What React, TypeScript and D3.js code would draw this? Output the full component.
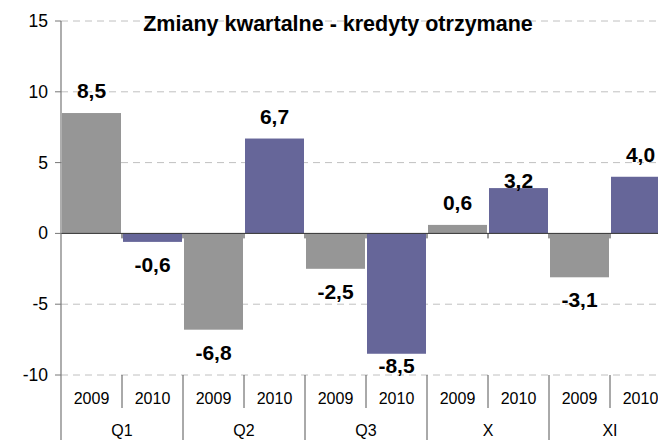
import React from "react";
import * as d3 from "d3";

const groups = ["Q1", "Q2", "Q3", "X", "XI"];
const years = ["2009", "2010"];
const values2009 = [8.5, -6.8, -2.5, 0.6, -3.1];
const values2010 = [-0.6, 6.7, -8.5, 3.2, 4.0];
const yTicks = [-10, -5, 0, 5, 10, 15];
const title = "Zmiany kwartalne - kredyty otrzymane";

const W = 658;
const H = 448;
const FONT = "'Liberation Sans', Arial, sans-serif";
const colors: Record<string, string> = { "2009": "#969696", "2010": "#666699" };

type Bar = { key: string; group: string; year: string; value: number; idx: number };

export default function App() {
  const bars: Bar[] = [];
  groups.forEach((g, gi) => {
    bars.push({ key: g + "-" + years[0], group: g, year: years[0], value: values2009[gi], idx: bars.length });
    bars.push({ key: g + "-" + years[1], group: g, year: years[1], value: values2010[gi], idx: bars.length });
  });

  const left = 61;
  const slotW = 61;
  const x = d3
    .scaleBand<string>()
    .domain(bars.map((b) => b.key))
    .range([left, left + slotW * bars.length])
    .paddingInner(0)
    .paddingOuter(0);
  const y = d3.scaleLinear().domain([-10, 15]).range([375, 21]);
  const y0 = y(0);
  const bottom = y(-10);
  const right = W;

  const fmt = (v: number) => v.toFixed(1).replace(".", ",");

  // label baseline overrides to mimic reference placement
  const labelY = (b: Bar) => {
    const end = y(b.value);
    if (b.key === "X-2010") return end;
    if (b.key === "Q3-2010") return end + 19;
    return b.value >= 0 ? end - 15 : end + 30;
  };

  return (
    <svg
      width={W}
      height={H}
      style={{ position: "absolute", left: 0, top: 0, background: "#fff" }}
      fontFamily={FONT}
    >
      {/* gridlines */}
      {yTicks
        .filter((t) => t !== 0)
        .map((t) => (
          <line
            key={"g" + t}
            x1={left}
            x2={right}
            y1={y(t)}
            y2={y(t)}
            stroke="#c0c0c0"
            strokeWidth={1}
            strokeDasharray="7,5"
          />
        ))}
      {/* bars */}
      {bars.map((b) => {
        const x0 = x(b.key)!;
        const top = Math.min(y(b.value), y0);
        const h = Math.abs(y(b.value) - y0);
        return (
          <rect
            key={b.key}
            x={x0 + 1}
            y={top}
            width={x.bandwidth() - 2}
            height={h}
            fill={colors[b.year]}
          />
        );
      })}
      {/* zero line */}
      <line x1={left} x2={right} y1={y0} y2={y0} stroke="#333" strokeWidth={1} />
      {bars.map((b, i) =>
        i === 0 ? null : (
          <line
            key={"zt" + b.key}
            x1={x(b.key)!}
            x2={x(b.key)!}
            y1={y0}
            y2={y0 + 5}
            stroke="#333"
            strokeWidth={1}
          />
        )
      )}
      {/* y axis */}
      <line x1={left} x2={left} y1={y(15)} y2={440} stroke="#777" strokeWidth={1.2} />
      {yTicks.map((t) => (
        <g key={"t" + t}>
          <line x1={left - 6} x2={left} y1={y(t)} y2={y(t)} stroke="#777" strokeWidth={1} />
          <text x={48} y={y(t) + 6} textAnchor="end" fontSize={17.5} fill="#000">
            {t}
          </text>
        </g>
      ))}
      {/* category separators */}
      {bars.map((b, i) => {
        if (i === 0) return null;
        const xx = x(b.key)!;
        const isGroup = b.year === years[0];
        return (
          <line
            key={"s" + b.key}
            x1={xx}
            x2={xx}
            y1={bottom}
            y2={isGroup ? 440 : 408}
            stroke="#555"
            strokeWidth={1}
          />
        );
      })}
      {/* year labels */}
      {bars.map((b) => (
        <text
          key={"yl" + b.key}
          x={x(b.key)! + x.bandwidth() / 2}
          y={404}
          textAnchor="middle"
          fontSize={16}
          fill="#000"
        >
          {b.year}
        </text>
      ))}
      {/* group labels */}
      {groups.map((g) => (
        <text
          key={"gl" + g}
          x={x(g + "-" + years[0])! + x.bandwidth()}
          y={436}
          textAnchor="middle"
          fontSize={16}
          fill="#000"
        >
          {g}
        </text>
      ))}
      {/* value labels */}
      {bars.map((b) => (
        <text
          key={"vl" + b.key}
          x={x(b.key)! + x.bandwidth() / 2}
          y={labelY(b)}
          textAnchor="middle"
          fontSize={21}
          fontWeight="bold"
          fill="#000"
        >
          {fmt(b.value)}
        </text>
      ))}
      {/* title */}
      <text x={338} y={31} textAnchor="middle" fontSize={21.5} fontWeight="bold" fill="#000">
        {title}
      </text>
    </svg>
  );
}
